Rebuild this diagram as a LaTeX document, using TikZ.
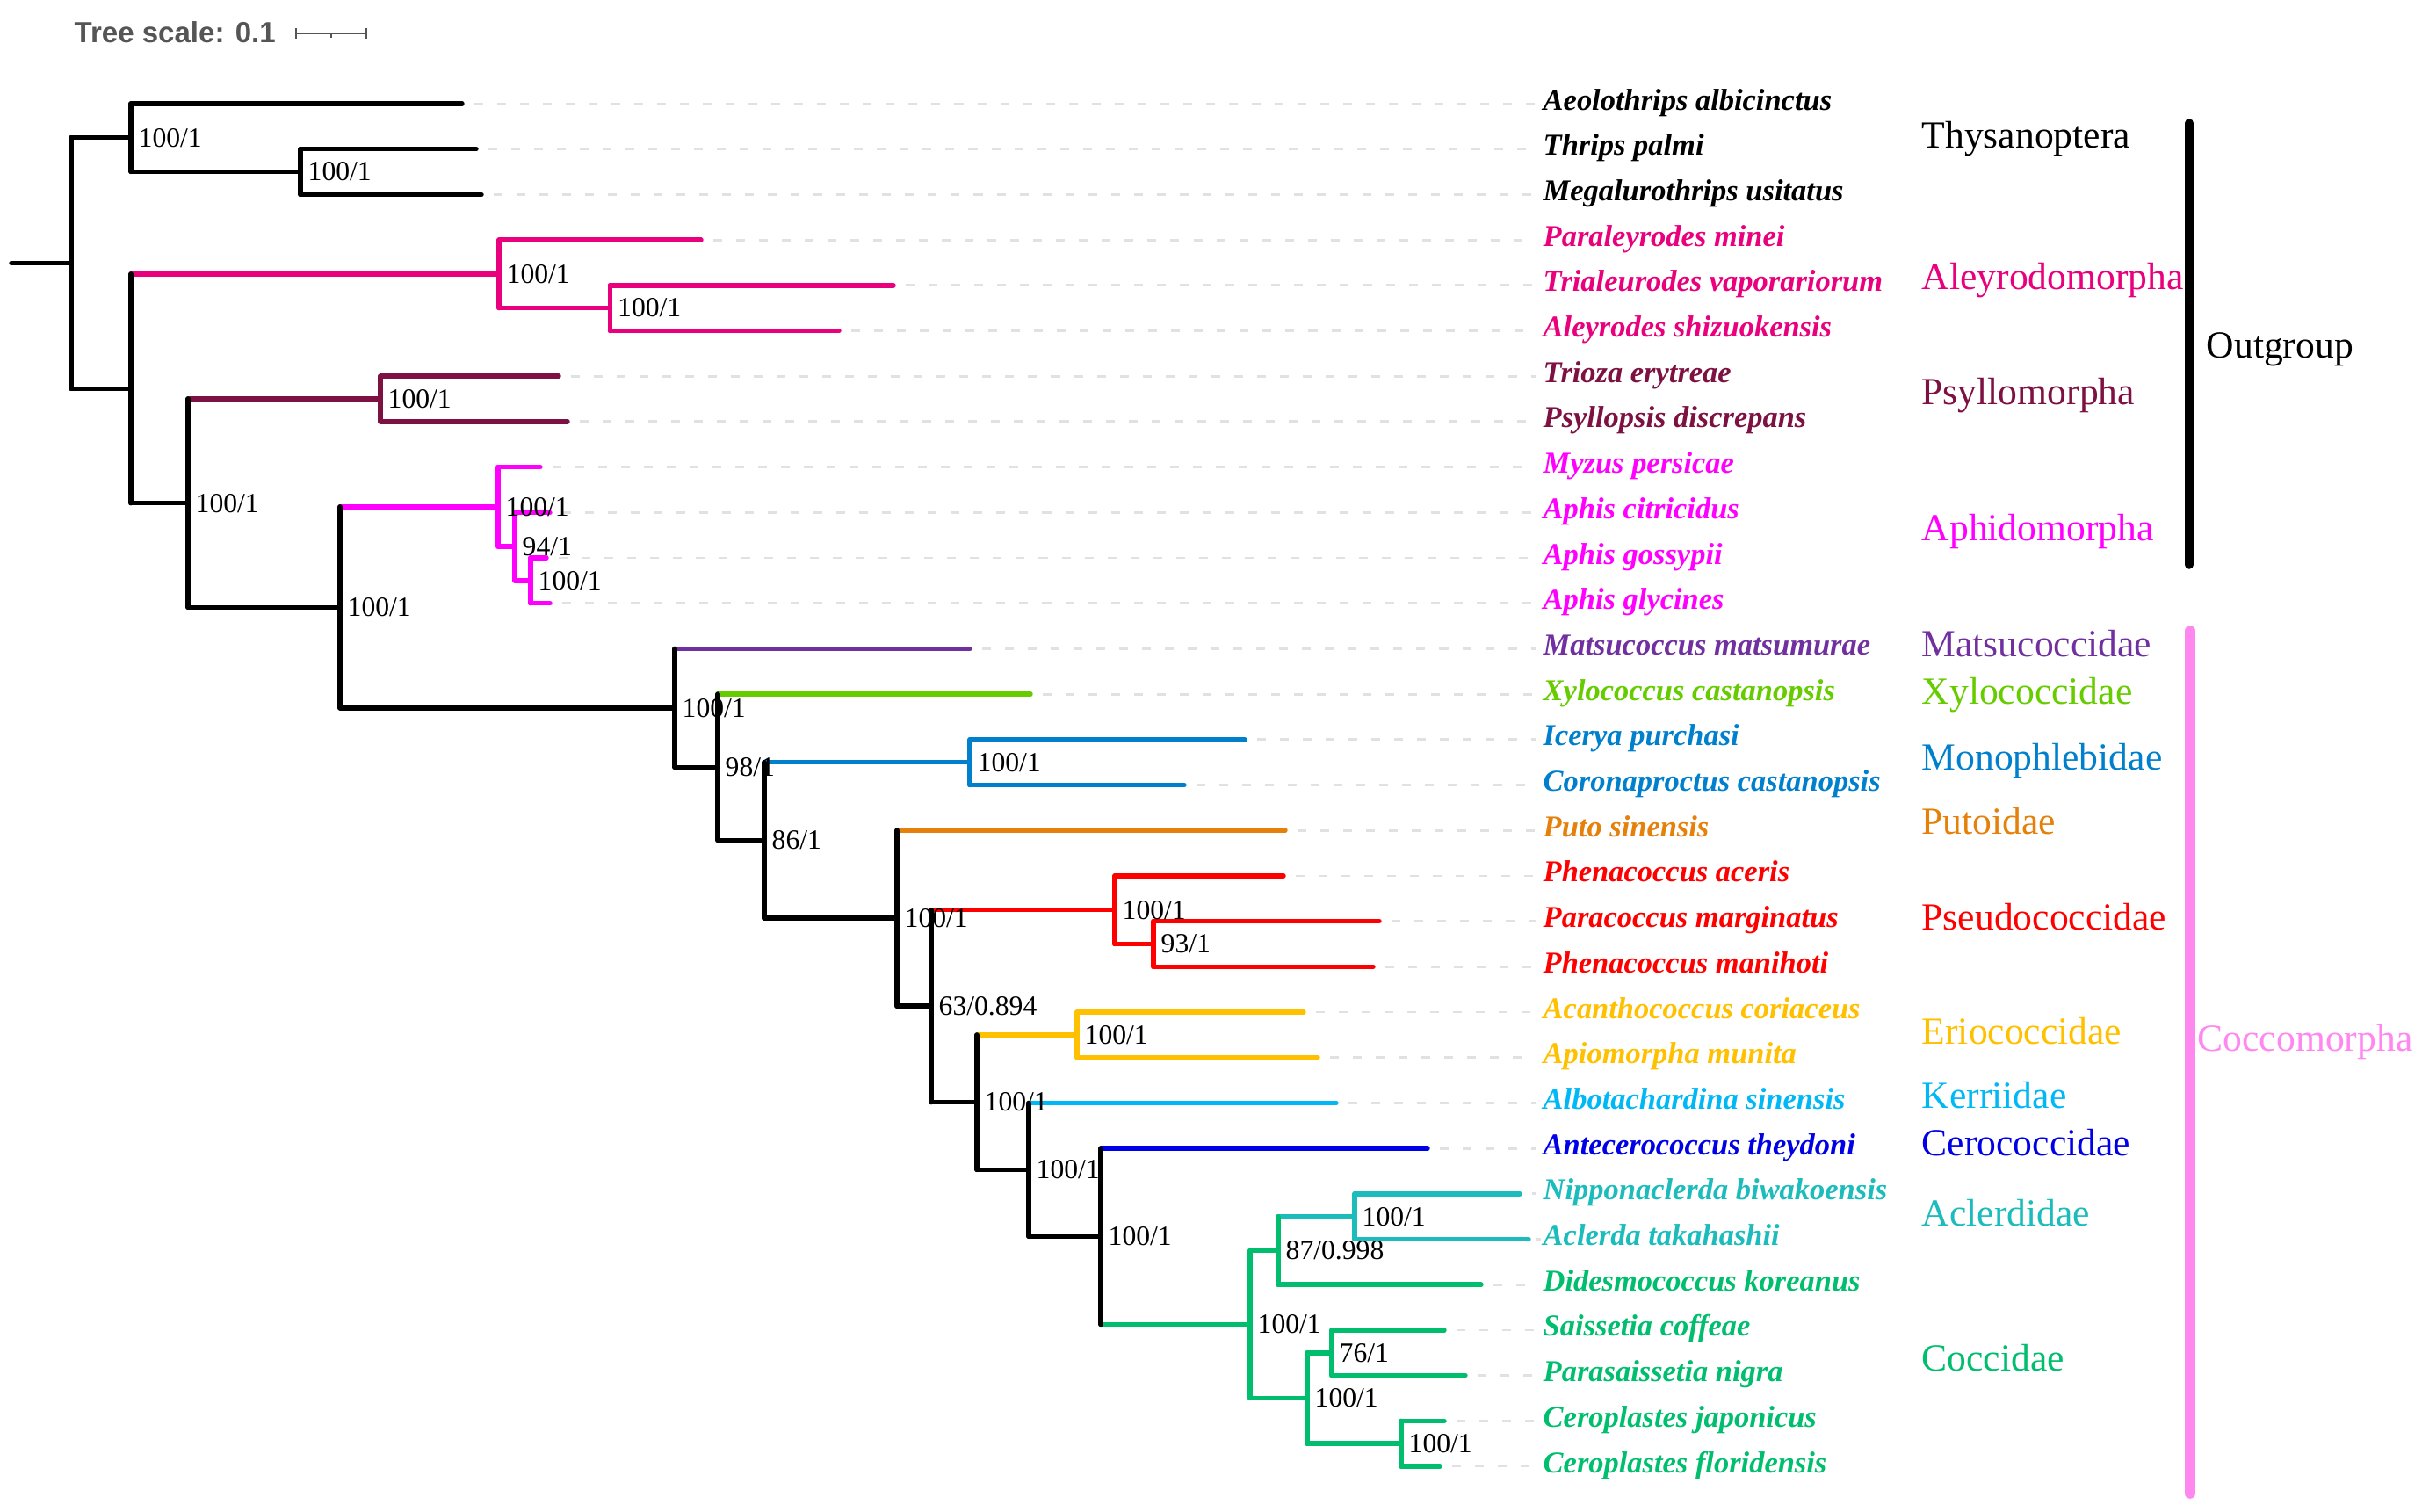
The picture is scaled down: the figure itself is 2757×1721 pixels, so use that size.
\documentclass[tikz,border=0pt]{standalone}
\usepackage{fontspec}
\setmainfont{Liberation Serif}
\newfontfamily\scalesans{Liberation Sans}
\usetikzlibrary{calc}
\definecolor{alepink}{RGB}{232,0,125}
\definecolor{psyllo}{RGB}{125,18,66}
\definecolor{aphid}{RGB}{255,0,255}
\definecolor{matsu}{RGB}{112,48,160}
\definecolor{xylo}{RGB}{102,204,0}
\definecolor{mono}{RGB}{0,128,204}
\definecolor{puto}{RGB}{229,128,10}
\definecolor{pseudo}{RGB}{255,0,0}
\definecolor{erio}{RGB}{255,192,0}
\definecolor{kerr}{RGB}{0,184,245}
\definecolor{cero}{RGB}{0,0,230}
\definecolor{acler}{RGB}{28,188,188}
\definecolor{cocci}{RGB}{0,190,110}
\definecolor{cocco}{RGB}{255,136,240}
\definecolor{scalegray}{RGB}{85,85,85}
\definecolor{guidegray}{RGB}{225,225,225}
\newcommand\hbr[3]{\draw[br,#3] (#1 |- #2) -- (#2);}
\newcommand\vbr[4]{\draw[br,#4] (#1 |- #2) -- (#1 |- #3);}
\begin{document}
\begin{tikzpicture}[x=0.01cm,y=-0.01cm,
 br/.style={line width=1.55pt,line cap=round},
 guide/.style={guidegray,line width=0.8pt,dash pattern=on 2.85pt off 4.55pt},
 leaf/.style={anchor=base west,inner sep=0pt,font=\fontsize{9.8}{11}\selectfont\bfseries\itshape},
 clade/.style={anchor=base west,inner sep=0pt,font=\fontsize{12.4}{14}\selectfont},
 boot/.style={anchor=west,inner sep=0pt,font=\fontsize{9}{10}\selectfont}]
\useasboundingbox (0,0) rectangle (2757,1721);

% tree scale
\node[anchor=west,inner sep=0pt,text=scalegray,font=\scalesans\bfseries\fontsize{9.4}{11}\selectfont] (ts) at (84,37) {Tree scale: 0.1};
\coordinate (sb1) at (337,38);
\coordinate (sb2) at (417,38);
\coordinate (sbm) at (377,38);
\draw[scalegray,line width=0.8pt] (sb1) -- (sb2);
\draw[scalegray,line width=0.8pt] ($(sb1)+(0,-6)$) -- ($(sb1)+(0,6)$);
\draw[scalegray,line width=0.8pt] ($(sb2)+(0,-6)$) -- ($(sb2)+(0,6)$);
\draw[scalegray,line width=0.8pt] (sbm) -- ($(sbm)+(0,5)$);

% leaves
\foreach \i/\nm/\col/\tx in {
0/{Aeolothrips albicinctus}/black/526,
1/{Thrips palmi}/black/542,
2/{Megalurothrips usitatus}/black/548,
3/{Paraleyrodes minei}/alepink/798,
4/{Trialeurodes vaporariorum}/alepink/1017,
5/{Aleyrodes shizuokensis}/alepink/955,
6/{Trioza erytreae}/psyllo/636,
7/{Psyllopsis discrepans}/psyllo/646,
8/{Myzus persicae}/aphid/615,
9/{Aphis citricidus}/aphid/626,
10/{Aphis gossypii}/aphid/622,
11/{Aphis glycines}/aphid/626,
12/{Matsucoccus matsumurae}/matsu/1104,
13/{Xylococcus castanopsis}/xylo/1173,
14/{Icerya purchasi}/mono/1417,
15/{Coronaproctus castanopsis}/mono/1348,
16/{Puto sinensis}/puto/1463,
17/{Phenacoccus aceris}/pseudo/1461,
18/{Paracoccus marginatus}/pseudo/1570,
19/{Phenacoccus manihoti}/pseudo/1563,
20/{Acanthococcus coriaceus}/erio/1484,
21/{Apiomorpha munita}/erio/1500,
22/{Albotachardina sinensis}/kerr/1521,
23/{Antecerococcus theydoni}/cero/1625,
24/{Nipponaclerda biwakoensis}/acler/1730,
25/{Aclerda takahashii}/acler/1740,
26/{Didesmococcus koreanus}/cocci/1686,
27/{Saissetia coffeae}/cocci/1644,
28/{Parasaissetia nigra}/cocci/1668,
29/{Ceroplastes japonicus}/cocci/1644,
30/{Ceroplastes floridensis}/cocci/1639}{
  \pgfmathsetmacro\yy{118+51.7*\i}
  \coordinate (l\i) at (\tx,\yy);
  \node[leaf,text=\col] (t\i) at (1756,\yy+7) {\nm};
}
\foreach \i in {0,...,30}{
  \draw[guide] ($(l\i)+(14,0)$) -- ($(t\i.west |- l\i)+(-8,0)$);
}

% internal nodes
\coordinate (rs) at (13,299.5);
\coordinate (r0) at (81,299.5);
\coordinate (nA) at (149,156.7);
\coordinate (nA2) at (342,195.4);
\coordinate (nB) at (149,442.3);
\coordinate (nAl) at (568,311.9);
\coordinate (nAl2) at (694.5,350.6);
\coordinate (nC) at (214,572.7);
\coordinate (nPs) at (433,454.0);
\coordinate (nD) at (387,691.3);
\coordinate (nAp) at (567,576.8);
\coordinate (nAp2) at (586,622.1);
\coordinate (nAp3) at (604,660.9);
\coordinate (nE) at (768,805.8);
\coordinate (nF) at (817,873.3);
\coordinate (nG) at (870,956.4);
\coordinate (nMo) at (1104,867.7);
\coordinate (nH) at (1021,1045.2);
\coordinate (nX) at (1060,1145.2);
\coordinate (nPe) at (1269,1035.7);
\coordinate (nPe2) at (1313,1074.5);
\coordinate (nY) at (1112,1254.6);
\coordinate (nEr) at (1226,1177.9);
\coordinate (nZ) at (1171,1331.4);
\coordinate (nW) at (1253,1407.3);
\coordinate (nV) at (1423,1507.5);
\coordinate (nU) at (1455,1423.4);
\coordinate (nAc) at (1542,1384.7);
\coordinate (nT) at (1488,1591.5);
\coordinate (nS) at (1516,1539.8);
\coordinate (nR) at (1595,1643.2);

% horizontal branches
\draw[br,black] (rs) -- (r0);
\hbr{r0}{nA}{black} \hbr{r0}{nB}{black}
\hbr{nA}{l0}{black} \hbr{nA}{nA2}{black}
\hbr{nA2}{l1}{black} \hbr{nA2}{l2}{black}
\hbr{nB}{nAl}{alepink} \hbr{nB}{nC}{black}
\hbr{nAl}{l3}{alepink} \hbr{nAl}{nAl2}{alepink}
\hbr{nAl2}{l4}{alepink} \hbr{nAl2}{l5}{alepink}
\hbr{nC}{nPs}{psyllo} \hbr{nC}{nD}{black}
\hbr{nPs}{l6}{psyllo} \hbr{nPs}{l7}{psyllo}
\hbr{nD}{nAp}{aphid} \hbr{nD}{nE}{black}
\hbr{nAp}{l8}{aphid} \hbr{nAp}{nAp2}{aphid}
\hbr{nAp2}{l9}{aphid} \hbr{nAp2}{nAp3}{aphid}
\hbr{nAp3}{l10}{aphid} \hbr{nAp3}{l11}{aphid}
\hbr{nE}{l12}{matsu} \hbr{nE}{nF}{black}
\hbr{nF}{l13}{xylo} \hbr{nF}{nG}{black}
\hbr{nG}{nMo}{mono} \hbr{nG}{nH}{black}
\hbr{nMo}{l14}{mono} \hbr{nMo}{l15}{mono}
\hbr{nH}{l16}{puto} \hbr{nH}{nX}{black}
\hbr{nX}{nPe}{pseudo} \hbr{nX}{nY}{black}
\hbr{nPe}{l17}{pseudo} \hbr{nPe}{nPe2}{pseudo}
\hbr{nPe2}{l18}{pseudo} \hbr{nPe2}{l19}{pseudo}
\hbr{nY}{nEr}{erio} \hbr{nY}{nZ}{black}
\hbr{nEr}{l20}{erio} \hbr{nEr}{l21}{erio}
\hbr{nZ}{l22}{kerr} \hbr{nZ}{nW}{black}
\hbr{nW}{l23}{cero} \hbr{nW}{nV}{cocci}
\hbr{nV}{nU}{cocci} \hbr{nV}{nT}{cocci}
\hbr{nU}{nAc}{acler} \hbr{nU}{l26}{cocci}
\hbr{nAc}{l24}{acler} \hbr{nAc}{l25}{acler}
\hbr{nT}{nS}{cocci} \hbr{nT}{nR}{cocci}
\hbr{nS}{l27}{cocci} \hbr{nS}{l28}{cocci}
\hbr{nR}{l29}{cocci} \hbr{nR}{l30}{cocci}

% vertical branches
\vbr{r0}{nA}{nB}{black}
\vbr{nA}{l0}{nA2}{black}
\vbr{nA2}{l1}{l2}{black}
\vbr{nB}{nAl}{nC}{black}
\vbr{nAl}{l3}{nAl2}{alepink}
\vbr{nAl2}{l4}{l5}{alepink}
\vbr{nC}{nPs}{nD}{black}
\vbr{nPs}{l6}{l7}{psyllo}
\vbr{nD}{nAp}{nE}{black}
\vbr{nAp}{l8}{nAp2}{aphid}
\vbr{nAp2}{l9}{nAp3}{aphid}
\vbr{nAp3}{l10}{l11}{aphid}
\vbr{nE}{l12}{nF}{black}
\vbr{nF}{l13}{nG}{black}
\vbr{nG}{nMo}{nH}{black}
\vbr{nMo}{l14}{l15}{mono}
\vbr{nH}{l16}{nX}{black}
\vbr{nX}{nPe}{nY}{black}
\vbr{nPe}{l17}{nPe2}{pseudo}
\vbr{nPe2}{l18}{l19}{pseudo}
\vbr{nY}{nEr}{nZ}{black}
\vbr{nEr}{l20}{l21}{erio}
\vbr{nZ}{l22}{nW}{black}
\vbr{nW}{l23}{nV}{black}
\vbr{nV}{nU}{nT}{cocci}
\vbr{nU}{nAc}{l26}{cocci}
\vbr{nAc}{l24}{l25}{acler}
\vbr{nT}{nS}{nR}{cocci}
\vbr{nS}{l27}{l28}{cocci}
\vbr{nR}{l29}{l30}{cocci}

% support values
\foreach \n/\v in {nA/100\slash 1,nA2/100\slash 1,nAl/100\slash 1,nAl2/100\slash 1,nPs/100\slash 1,nC/100\slash 1,nD/100\slash 1,nAp/100\slash 1,nAp2/94\slash 1,nAp3/100\slash 1,nE/100\slash 1,nF/98\slash 1,nG/86\slash 1,nMo/100\slash 1,nH/100\slash 1,nPe/100\slash 1,nPe2/93\slash 1,nX/63\slash 0.894,nEr/100\slash 1,nY/100\slash 1,nZ/100\slash 1,nW/100\slash 1,nAc/100\slash 1,nU/87\slash 0.998,nV/100\slash 1,nS/76\slash 1,nT/100\slash 1,nR/100\slash 1}{
  \node[boot] (b\n) at ($(\n)+(8,0)$) {\v};
}

% clade labels
\foreach \nm/\col/\yb in {Thysanoptera/black/168,Aleyrodomorpha/alepink/329,Psyllomorpha/psyllo/460,Aphidomorpha/aphid/615,Matsucoccidae/matsu/747,Xylococcidae/xylo/801,Monophlebidae/mono/876,Putoidae/puto/949,Pseudococcidae/pseudo/1058,Eriococcidae/erio/1188,Kerriidae/kerr/1261,Cerococcidae/cero/1315,Aclerdidae/acler/1395,Coccidae/cocci/1560}{
  \node[clade,text=\col] (c\nm) at (2187,\yb) {\nm};
}
\coordinate (og1) at (2492,140);
\coordinate (og2) at (2492,643);
\draw[black,line width=2.7pt,line cap=round] (og1) -- (og2);
\node[clade,text=black] (cOutgroup) at (2511,407) {Outgroup};
\coordinate (cc1) at (2493,718);
\coordinate (cc2) at (2493,1700);
\draw[cocco,line width=3.3pt,line cap=round] (cc1) -- (cc2);
\node[clade,text=cocco] (cCoccomorpha) at (2501,1196) {Coccomorpha};
\end{tikzpicture}
\end{document}
